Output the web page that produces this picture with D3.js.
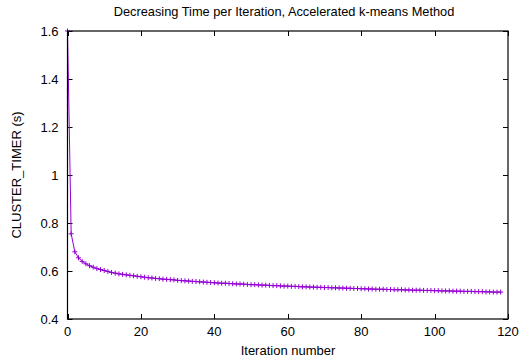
<!DOCTYPE html>
<html><head><meta charset="utf-8">
<script src="https://cdn.jsdelivr.net/npm/d3@7"></script>
<style>body{margin:0;background:#fff}svg{display:block}text{font-family:"Liberation Sans",Arial,sans-serif;fill:#000}</style>
</head><body><div id="chart"></div>
<script>
const title = "Decreasing Time per Iteration, Accelerated k-means Method";
const xLabel = "Iteration number";
const yLabel = "CLUSTER_TIMER (s)";
const xTicks = [0,20,40,60,80,100,120];
const yTicks = [0.4,0.6,0.8,1,1.2,1.4,1.6];
const times = [1.600,0.755,0.680,0.655,0.640,0.630,0.622,0.616,0.610,0.606,
0.602,0.598,0.594,0.591,0.588,0.586,0.584,0.582,0.580,0.578,
0.576,0.574,0.572,0.571,0.569,0.568,0.566,0.565,0.564,0.563,
0.561,0.560,0.559,0.558,0.557,0.556,0.555,0.554,0.553,0.552,
0.551,0.550,0.549,0.549,0.548,0.547,0.546,0.546,0.545,0.544,
0.543,0.543,0.542,0.541,0.541,0.540,0.539,0.539,0.538,0.537,
0.537,0.536,0.536,0.535,0.534,0.534,0.533,0.533,0.532,0.532,
0.531,0.531,0.530,0.530,0.529,0.529,0.528,0.528,0.527,0.527,
0.526,0.526,0.525,0.525,0.524,0.524,0.524,0.523,0.523,0.522,
0.522,0.522,0.521,0.521,0.520,0.520,0.520,0.519,0.519,0.519,
0.518,0.518,0.517,0.517,0.517,0.516,0.516,0.516,0.515,0.515,
0.515,0.514,0.514,0.514,0.513,0.513,0.512,0.512,0.512];
const iterations = times.map((_, i) => i);

const W = 522, H = 358;
const m = {left: 67.5, right: 14, top: 31, bottom: 39};
const svg = d3.select("#chart").append("svg").attr("width", W).attr("height", H);
const x = d3.scaleLinear().domain([0,120]).range([m.left, W - m.right]);
const y = d3.scaleLinear().domain([0.4,1.6]).range([H - m.bottom, m.top]);
const color = "#9400d3";
const tl = 5;

// ticks (inner, mirrored)
const tg = svg.append("g").attr("stroke","#000").attr("stroke-width",1);
xTicks.forEach(t => {
  const px = Math.round(x(t)) + 0.5;
  tg.append("line").attr("x1",px).attr("x2",px).attr("y1",y(0.4)).attr("y2",y(0.4)-tl);
  tg.append("line").attr("x1",px).attr("x2",px).attr("y1",y(1.6)).attr("y2",y(1.6)+tl);
});
yTicks.forEach(t => {
  const py = Math.round(y(t)) + 0.5;
  tg.append("line").attr("x1",x(0)).attr("x2",x(0)+tl).attr("y1",py).attr("y2",py);
  tg.append("line").attr("x1",x(120)).attr("x2",x(120)-tl).attr("y1",py).attr("y2",py);
});

// tick labels
svg.append("g").selectAll("text").data(xTicks).join("text")
  .attr("x", d => x(d)).attr("y", y(0.4) + 17).attr("text-anchor","middle")
  .attr("font-size", 13).text(d => d);
svg.append("g").selectAll("text").data(yTicks).join("text")
  .attr("x", x(0) - 9).attr("y", d => y(d) + 5).attr("text-anchor","end")
  .attr("font-size", 13).text(d => d3.format("")(d));

// data
const line = d3.line().x((d,i) => x(iterations[i])).y(d => y(d));
svg.append("path").datum(times).attr("d", line).attr("fill","none")
  .attr("stroke", color).attr("stroke-width", 1);
const ms = 2.5;
svg.append("g").selectAll("path").data(times).join("path")
  .attr("d", (d,i) => {
    const cx = x(iterations[i]), cy = y(d);
    return `M${cx-ms},${cy}H${cx+ms}M${cx},${cy-ms}V${cy+ms}`;
  })
  .attr("stroke", color).attr("stroke-width", 1).attr("fill","none");

// border
svg.append("rect").attr("x", x(0)).attr("y", y(1.6)).attr("width", x(120)-x(0)).attr("height", y(0.4)-y(1.6))
  .attr("fill","none").attr("stroke","#000").attr("stroke-width",1.2);

// titles
svg.append("text").attr("x", 284).attr("y", 16).attr("text-anchor","middle").attr("font-size", 12.8).text(title);
svg.append("text").attr("x", 288).attr("y", 355).attr("text-anchor","middle").attr("font-size", 13).text(xLabel);
svg.append("text").attr("transform", `translate(21,${(y(0.4)+y(1.6))/2}) rotate(-90)`)
  .attr("text-anchor","middle").attr("font-size", 13).text(yLabel);
</script></body></html>
